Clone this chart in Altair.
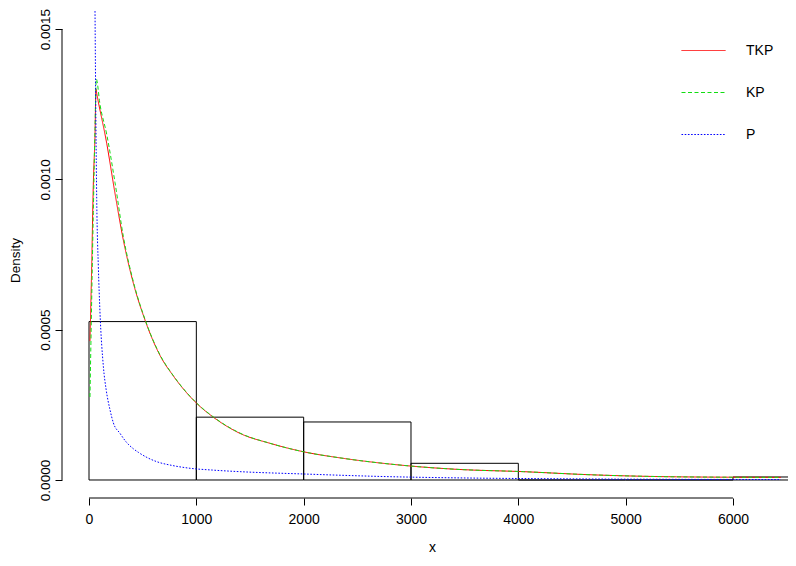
import altair as alt
import pandas as pd

# ---------------- data ----------------
bin_left = [0, 1000, 2000, 3000, 4000, 5000, 6000]
bin_right = [1000, 2000, 3000, 4000, 5000, 6000, 7000]
bin_density = [0.000527, 0.000209, 0.000193, 0.0000555, 0.0, 0.0, 0.00001]

tkp_x = [9, 25, 40, 56, 65, 72, 165, 242, 320, 413, 522, 662, 786, 1003, 1158,
         1407, 1687, 1997, 2370, 2805, 2991, 3427, 4047, 4658, 5473, 6446]
tkp_y = [0.000462, 0.00071, 0.00098, 0.00115, 0.0013, 0.001286, 0.00112, 0.000954,
         0.000798, 0.000655, 0.000532, 0.000414, 0.000346, 0.000255, 0.000209,
         0.000155, 0.000122, 0.000094, 0.000072, 0.000053, 0.0000466, 0.0000355,
         0.0000277, 0.0000176, 0.0000106, 0.0000087]

kp_x = [9, 25, 40, 56, 68, 102, 165, 242, 320, 413, 522, 662, 786, 1003, 1158,
        1407, 1687, 1997, 2370, 2805, 2991, 3427, 4047, 4658, 5473, 6446]
kp_y = [0.000276, 0.0006, 0.00089, 0.00117, 0.001334, 0.00125, 0.00115, 0.00099,
        0.00081, 0.00066, 0.000534, 0.000416, 0.000347, 0.000256, 0.00021,
        0.000156, 0.000122, 0.000094, 0.000072, 0.000053, 0.0000466, 0.0000355,
        0.0000277, 0.0000176, 0.0000106, 0.0000087]

p_x = [56, 64, 72, 87, 102, 134, 160, 196, 227, 289, 350, 413, 460, 540, 631, 780,
       941, 1150, 1407, 1997, 2805, 3560, 4175, 4860, 6446]
p_y = [0.00156, 0.0012, 0.00093, 0.00071, 0.00056, 0.000377, 0.0003, 0.000233,
       0.00019, 0.000155, 0.000125, 0.000104, 0.000092, 0.000075, 0.000061,
       0.000048, 0.000039, 0.000033, 0.0000277, 0.00002, 0.000011, 0.0000065,
       0.0000045, 0.000003, 0.0000015]

series_names = ["TKP", "KP", "P"]
series_colors = ["#FF0000", "#11DD11", "#0000FF"]
series_dash = [[1, 0], [4, 2.5], [1.6, 1.6]]

x_ticks = [0, 1000, 2000, 3000, 4000, 5000, 6000]
y_ticks = [0.0, 0.0005, 0.0010, 0.0015]

# ---------------- tables ----------------
hist_df = pd.DataFrame({"left": bin_left, "right": bin_right, "density": bin_density})
rows = []
for name, xs, ys in [("TKP", tkp_x, tkp_y), ("KP", kp_x, kp_y), ("P", p_x, p_y)]:
    for a, b in zip(xs, ys):
        rows.append({"x": a, "d": b, "series": name})
curve_df = pd.DataFrame(rows)
xaxis_df = pd.DataFrame({"a": [x_ticks[0]], "b": [x_ticks[-1]]})
yaxis_df = pd.DataFrame({"a": [y_ticks[0]], "b": [y_ticks[-1]]})

PLOT_W, PLOT_H = 726, 490
x_scale = alt.Scale(domain=[-251.6, 6512.6], nice=False, zero=False)
y_scale = alt.Scale(domain=[-0.0000599, 0.0015702], nice=False, zero=False)

NARROW = "Liberation Sans Narrow, Arial Narrow, Liberation Sans, sans-serif"
REG = "Liberation Sans, Arial, sans-serif"

x_axis = alt.Axis(values=x_ticks, format="d", domain=False, grid=False,
                  tickSize=7, tickColor="#000000", tickWidth=1,
                  labelFont=NARROW, labelFontSize=14, labelColor="#000000",
                  labelPadding=7, labelFlush=False, labelOverlap=False,
                  title="x", titleFont=NARROW, titleFontSize=14,
                  titleFontWeight="normal", titleColor="#000000",
                  titleX=370, titleY=49, titleAlign="center", titleBaseline="middle")
y_axis = alt.Axis(values=y_ticks, format=".4f", domain=False, grid=False,
                  tickSize=7, tickColor="#000000", tickWidth=1,
                  labelFont=REG, labelFontSize=13.5, labelColor="#000000",
                  labelAngle=270, labelAlign="center", labelBaseline="alphabetic",
                  labelPadding=6, labelFlush=False, labelOverlap=False,
                  title="Density", titleFont=REG, titleFontSize=13.5,
                  titleFontWeight="normal", titleColor="#000000", titleAngle=270,
                  titleX=-47, titleY=252, titleAlign="center", titleBaseline="middle")

hist = alt.Chart(hist_df).mark_rect(
    fillOpacity=0, stroke="#000000", strokeWidth=1, clip=True
).encode(
    x=alt.X("left:Q", scale=x_scale, axis=x_axis),
    x2="right:Q",
    y=alt.Y("density:Q", scale=y_scale, axis=y_axis),
    y2=alt.datum(0),
)

leg = dict(title=None, orient="none", legendX=619, legendY=20,
           symbolSize=1936, symbolStrokeWidth=1,
           labelFont=NARROW, labelFontSize=14, labelColor="#000000",
           labelOffset=20, rowPadding=12, padding=0)

curves = alt.Chart(curve_df).mark_line(
    strokeWidth=1, clip=True, interpolate="monotone"
).encode(
    x=alt.X("x:Q", scale=x_scale),
    y=alt.Y("d:Q", scale=y_scale),
    color=alt.Color("series:N",
                    scale=alt.Scale(domain=series_names, range=series_colors),
                    legend=alt.Legend(**leg)),
    strokeDash=alt.StrokeDash("series:N",
                              scale=alt.Scale(domain=series_names, range=series_dash),
                              legend=alt.Legend(**leg)),
    order="x:Q",
)

xline = alt.Chart(xaxis_df).mark_rule(color="#000000", strokeWidth=1).encode(
    x=alt.X("a:Q", scale=x_scale), x2="b:Q", y=alt.value(PLOT_H)
)
yline = alt.Chart(yaxis_df).mark_rule(color="#000000", strokeWidth=1).encode(
    y=alt.Y("a:Q", scale=y_scale), y2="b:Q", x=alt.value(0)
)

chart = alt.layer(hist, curves, xline, yline).properties(
    width=PLOT_W, height=PLOT_H,
    autosize=alt.AutoSizeParams(type="none"),
    padding={"left": 54, "top": 0, "right": 0, "bottom": 60},
    background="#ffffff",
).configure_view(stroke=None)

chart.save("out.html", embed_options={"renderer": "svg", "actions": False})
